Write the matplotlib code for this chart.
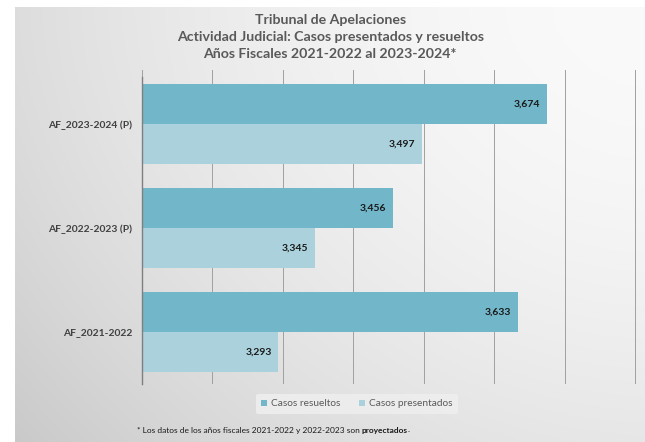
import numpy as np
import matplotlib.pyplot as plt
import matplotlib.ticker as ticker

# Datos
categorias = ['AF_2023-2024 (P)', 'AF_2022-2023 (P)', 'AF_2021-2022']
casos_resueltos = [3674, 3456, 3633]
casos_presentados = [3497, 3345, 3293]

color_resueltos = '#72b6ca'
color_presentados = '#aad1dc'
gris_texto = '#595959'

plt.rcParams['font.family'] = ['Lato', 'DejaVu Sans']

fig = plt.figure(figsize=(6.45, 4.42), dpi=100)
fig.patch.set_facecolor('white')

# Fondo degradado del área del gráfico
bg = fig.add_axes([15 / 645, 0, 630 / 645, 435 / 442], zorder=-10)
xx, yy = np.meshgrid(np.linspace(0, 1, 200), np.linspace(0, 1, 200))
g = 0.98 - 0.19 * (0.6 * (1 - xx) ** 1.8 + 0.4 * (1 - yy) ** 1.8)
bg.imshow(np.dstack([g, g, g]), aspect='auto', origin='lower', extent=[0, 1, 0, 1])
bg.axis('off')

# Ejes principales
ax = fig.add_axes([142 / 645, 1 - 384 / 442, (636 - 142) / 645, (384 - 70) / 442])
ax.patch.set_alpha(0)

y = np.arange(len(categorias))
alto = 0.385
ax.barh(y - alto / 2, casos_resueltos, height=alto, color=color_resueltos,
        label='Casos resueltos', zorder=2)
ax.barh(y + alto / 2, casos_presentados, height=alto, color=color_presentados,
        label='Casos presentados', zorder=2)

# Etiquetas de valores
for i in range(len(categorias)):
    ax.text(casos_resueltos[i] - 9, y[i] - alto / 2, f'{casos_resueltos[i]:,}',
            ha='right', va='center', fontsize=7.5, fontweight='bold', color='#1a1a1a', zorder=3)
    ax.text(casos_presentados[i] - 9, y[i] + alto / 2, f'{casos_presentados[i]:,}',
            ha='right', va='center', fontsize=7.5, fontweight='bold', color='#1a1a1a', zorder=3)

ax.set_xlim(3100, 3801)
ax.set_ylim(2.5, -0.52)
ax.xaxis.set_major_locator(ticker.MultipleLocator(100))
ax.grid(axis='x', color='#a0a0a0', linewidth=0.7, zorder=1)
ax.set_axisbelow(True)
ax.tick_params(axis='x', length=0, labelbottom=False)
ax.tick_params(axis='y', length=0, pad=7)
ax.set_yticks(y)
ax.set_yticklabels(categorias, fontsize=7.4, fontweight='bold', color='#404040')
for s in ['top', 'right', 'bottom']:
    ax.spines[s].set_visible(False)
ax.spines['left'].set_color('#7f7f7f')
ax.spines['left'].set_linewidth(1.0)
ax.spines['left'].set_bounds(2.5, -0.45)

# Título
fig.text(0.512, 1 - 37 / 442,
         'Tribunal de Apelaciones\nActividad Judicial: Casos presentados y resueltos\n'
         'Años Fiscales 2021-2022 al 2023-2024*',
         ha='center', va='center', fontsize=10.2, fontweight='bold', color=gris_texto,
         linespacing=1.5)

# Leyenda
leg = fig.legend(loc='center', bbox_to_anchor=(357 / 645, 1 - 404 / 442), ncol=2,
                 fontsize=7.3, frameon=True, handlelength=0.6, handleheight=0.6,
                 handletextpad=0.4, columnspacing=1.8, borderpad=0.5)
leg.get_frame().set_facecolor('#eeeeee')
leg.get_frame().set_edgecolor('none')
leg.get_frame().set_alpha(0.9)
for t in leg.get_texts():
    t.set_color(gris_texto)

# Nota al pie
t1 = fig.text(137 / 645, 1 - 430 / 442,
              '* Los datos de los años fiscales 2021-2022 y 2022-2023 son ',
              fontsize=6, color='#1a1a1a', va='center')
t2 = fig.text(0, 0, 'proyectados', fontsize=6, fontweight='bold', color='#1a1a1a',
              va='center', transform=None)
fig.canvas.draw()
bb = t1.get_window_extent()
t2.set_position((bb.x1, (bb.y0 + bb.y1) / 2))
bb2 = t2.get_window_extent()
fig.text(bb2.x1, (bb.y0 + bb.y1) / 2, '.', fontsize=6, color='#1a1a1a',
         va='center', transform=None)

fig.savefig('out.png', dpi=100)
